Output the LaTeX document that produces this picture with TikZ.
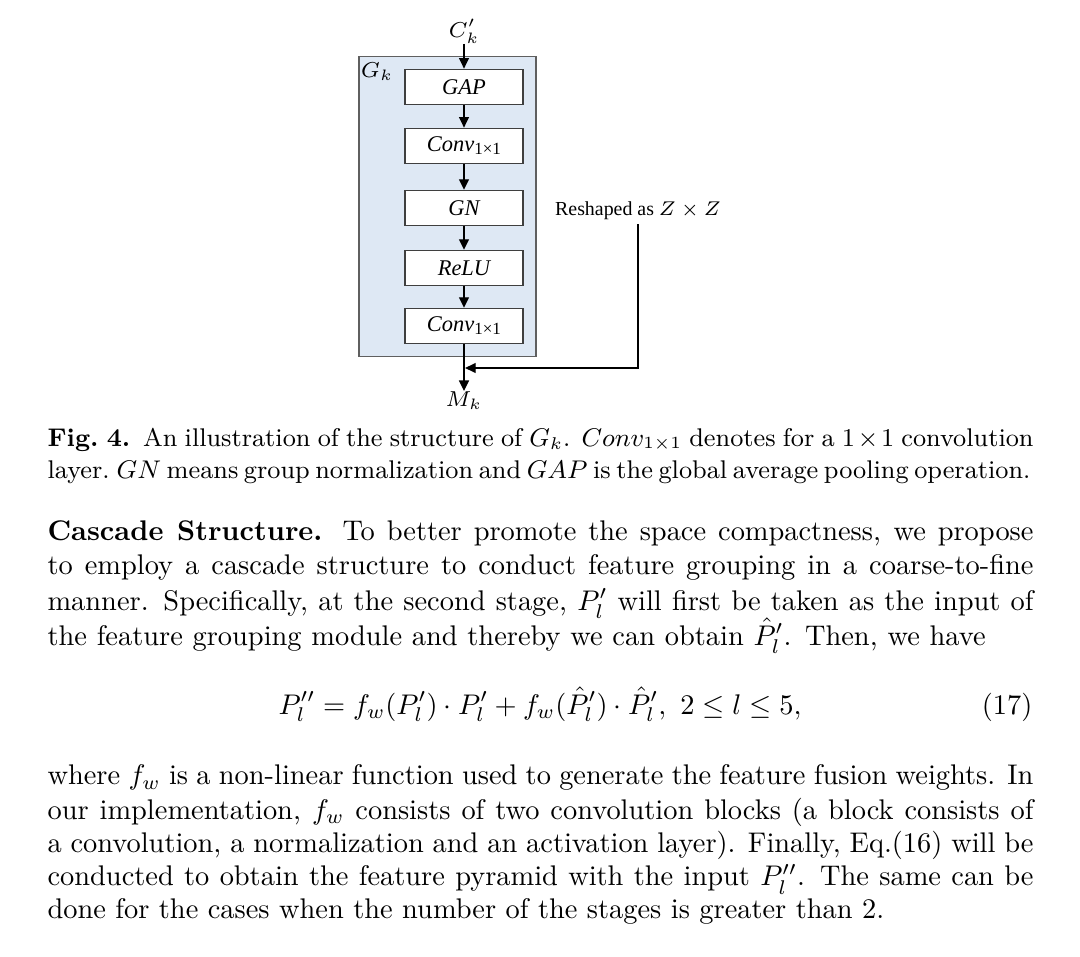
\RequirePackage{fix-cm}
\documentclass[tikz,border=0pt]{standalone}
\usepackage{fontspec}
\usepackage{amsmath}
\newfontfamily\timesf{Liberation Serif}
\usetikzlibrary{arrows.meta}
\newlength\tw \setlength\tw{347.07pt}
\newlength\twcap \setlength\twcap{346.0pt}
\newlength\twpf \setlength\twpf{330.2pt}
\newcommand{\lab}[1]{{\timesf\itshape #1}}
\newcommand{\convlab}{{\timesf\itshape Conv\/}\raisebox{-0.3ex}{\timesf\fontsize{6}{7}\selectfont 1×1}}
\definecolor{panel}{HTML}{DEE8F4}
\definecolor{panelborder}{HTML}{5F5F5F}
\definecolor{boxborder}{HTML}{3F3F3F}
\begin{document}
\begin{tikzpicture}[x=0.352pt,y=-0.352pt,
 arr/.style={-{Triangle[length=3.7pt,width=3.5pt]}, line width=0.45pt},
 blk/.style={draw=boxborder, fill=white, line width=0.5pt, minimum width={118*0.352pt}, minimum height={35*0.352pt}, inner sep=0pt, font=\fontsize{7.9}{9}\selectfont},
 lbl/.style={inner sep=0pt, font=\fontsize{7.6}{9}\selectfont},
 body/.style={anchor=base west, inner sep=0pt, font=\fontsize{10}{12}\selectfont},
 captxt/.style={anchor=base west, inner sep=0pt, font=\fontsize{9}{11}\selectfont}]
\useasboundingbox[fill=white] (0,0) rectangle (1080,957);
% diagram
\node[draw=panelborder, fill=panel, line width=0.5pt, minimum width={177*0.352pt}, minimum height={300*0.352pt}, inner sep=0pt] (panel) at (447.5,206.7) {};
\node[lbl] (gk) at (377,72) {$G_k$};
\node[blk] (gap) at (464,86.8) {\lab{GAP}};
\node[blk] (conva) at (464,145.8) {\convlab};
\node[blk] (gn) at (464,208) {\lab{GN}};
\node[blk] (relu) at (464,268) {\lab{ReLU}};
\node[blk] (convb) at (464,326) {\convlab};
\node[lbl, anchor=south] (cin) at (464,44) {$C'_k$};
\node[lbl, anchor=north] (mk) at (464,391) {$M_k$};
\coordinate (join) at (464,368);
\node[anchor=base, inner sep=1.2pt, font=\timesf\fontsize{7}{8}\selectfont] (resh) at (638,216) {Reshaped as $Z\times Z$};
\draw[arr] (cin) -- (gap);
\draw[arr] (gap) -- (conva);
\draw[arr] (conva) -- (gn);
\draw[arr] (gn) -- (relu);
\draw[arr] (relu) -- (convb);
\draw[arr] (convb) -- (mk);
\draw[arr, shorten >=0.4pt] (resh.south) |- (join);
% caption
\node[captxt] (cap1) at (47,446) {\hbox to\tw{\textbf{Fig.\ 4.}\enspace An illustration of the structure of $G_k$. $Conv_{1\times 1}$ denotes for a $1\times 1$ convolution}};
\node[captxt] (cap2) at (47,478) {\hbox to\twcap{\spaceskip=1.7pt plus 3pt\xspaceskip=2.2pt plus 3pt layer. $GN$ means group normalization and $GAP$ is the global average pooling operation.}};
% paragraph
\node[body] (p1) at (47,540) {\hbox to\tw{\textbf{Cascade Structure.} To better promote the space compactness, we propose}};
\node[body] (p2) at (47,575) {\hbox to\tw{to employ a cascade structure to conduct feature grouping in a coarse-to-fine}};
\node[body] (p3) at (47,610) {\hbox to\tw{manner. Specifically, at the second stage, $P'_l$ will first be taken as the input of}};
\node[body] (p4) at (47,645) {\hbox to\twpf{the feature grouping module and thereby we can obtain $\hat{P}'_l$. Then, we have}};
% equation
\node[anchor=base, inner sep=0pt, font=\fontsize{10}{12}\selectfont] (eq) at (540,714) {$\displaystyle P''_l = f_w(P'_l)\cdot P'_l + f_w(\hat{P}'_l)\cdot \hat{P}'_l,\ 2\leq l\leq 5,$};
\node[anchor=base east, inner sep=0pt, font=\fontsize{10}{12}\selectfont] (eqno) at (1033,714) {(17)};
% final paragraph
\node[body] (q1) at (47,785) {\hbox to\tw{where $f_w$ is a non-linear function used to generate the feature fusion weights. In}};
\node[body] (q2) at (47,819) {\hbox to\tw{our implementation, $f_w$ consists of two convolution blocks (a block consists of}};
\node[body] (q3) at (47,853) {\hbox to\tw{a convolution, a normalization and an activation layer). Finally, Eq.(16) will be}};
\node[body] (q4) at (47,886) {\hbox to\tw{conducted to obtain the feature pyramid with the input $P''_l$. The same can be}};
\node[body] (q5) at (47,919) {done for the cases when the number of the stages is greater than 2.};
\end{tikzpicture}
\end{document}
